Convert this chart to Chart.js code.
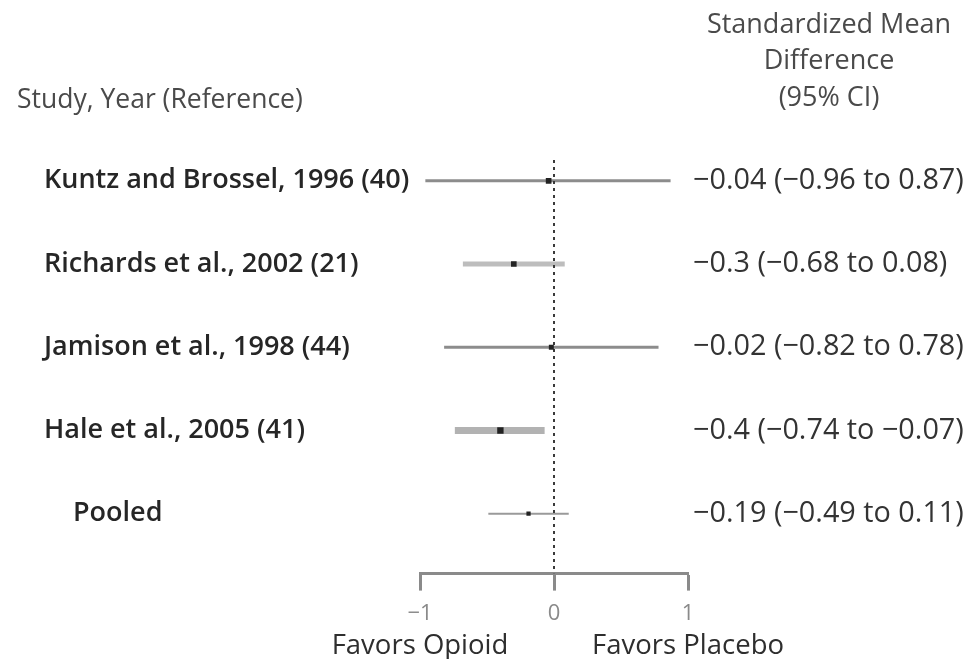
<!DOCTYPE html>
<html>
<head>
<meta charset="utf-8">
<script src="https://cdn.jsdelivr.net/npm/chart.js@4.4.1/dist/chart.umd.min.js"></script>
<style>
    html, body { margin: 0; padding: 0; background: #fff; }
    #wrap { width: 971px; height: 659px; position: relative; }
</style>
</head>
<body>
<div id="wrap"><canvas id="forestChart"></canvas></div>
<script>
// Dane
const studies = ['Kuntz and Brossel, 1996 (40)', 'Richards et al., 2002 (21)', 'Jamison et al., 1998 (44)', 'Hale et al., 2005 (41)', 'Pooled'];
const smd = [-0.04, -0.3, -0.02, -0.4, -0.19];
const ciLow = [-0.96, -0.68, -0.82, -0.74, -0.49];
const ciHigh = [0.87, 0.08, 0.78, -0.07, 0.11];
const ciText = ['\u22120.04 (\u22120.96 to 0.87)', '\u22120.3 (\u22120.68 to 0.08)', '\u22120.02 (\u22120.82 to 0.78)', '\u22120.4 (\u22120.74 to \u22120.07)', '\u22120.19 (\u22120.49 to 0.11)'];
const xTicks = [-1, 0, 1];
const favorsLabels = ['Favors Opioid', 'Favors Placebo'];

// Style wierszy
const lineColors = ['#8c8c8c', '#bdbdbd', '#8c8c8c', '#b2b2b2', '#9a9a9a'];
const lineWidths = [3, 5, 3, 7, 2];
const pointSizes = [4, 4, 3.5, 4.5, 3];
const labelIndent = [44, 44, 44, 44, 73];

const FONT = '"Open Sans", "DejaVu Sans", sans-serif';

// Linie przedziałów ufności - jeden zbiór na wiersz
const ciDatasets = studies.map((name, i) => ({
    label: name,
    data: [{ x: ciLow[i], y: i }, { x: ciHigh[i], y: i }],
    showLine: true,
    borderColor: lineColors[i],
    borderWidth: lineWidths[i],
    borderCapStyle: 'butt',
    pointRadius: 0,
    order: 2,
}));

const nullLine = {
    label: 'null',
    data: [{ x: 0, y: -0.25 }, { x: 0, y: 4.72 }],
    showLine: true,
    borderColor: '#3a3a3a',
    borderWidth: 2,
    borderDash: [3, 4],
    pointRadius: 0,
    order: 1,
};

const pointsDataset = {
    label: 'SMD',
    data: smd.map((v, i) => ({ x: v, y: i })),
    pointStyle: 'rect',
    pointRadius: pointSizes,
    backgroundColor: '#222',
    borderColor: '#222',
    borderWidth: 0,
    order: 0,
};

/**
 * Teksty: nagłówki, etykiety badań, wartości CI, opisy osi
 */
const textPlugin = {
    id: 'forestText',
    afterDraw(chart) {
        const ctx = chart.ctx;
        const xs = chart.scales.x;
        const ys = chart.scales.y;
        const area = chart.chartArea;
        ctx.save();
        ctx.textBaseline = 'middle';

        // Nagłówek lewy
        ctx.fillStyle = '#4a4a4a';
        ctx.font = '400 26.5px ' + FONT;
        ctx.textAlign = 'left';
        ctx.fillText('Study, Year (Reference)', 17, 100);

        // Nagłówek prawy
        ctx.textAlign = 'center';
        ctx.font = '400 27px ' + FONT;
        ctx.fillText('Standardized Mean', 829, 25);
        ctx.fillText('Difference', 829, 61);
        ctx.fillText('(95% CI)', 829, 98);

        // Etykiety badań
        ctx.textAlign = 'left';
        ctx.font = '600 27px ' + FONT;
        ctx.fillStyle = '#262626';
        studies.forEach((name, i) => {
            ctx.fillText(name, labelIndent[i], ys.getPixelForValue(i));
        });

        // Wartości SMD (95% CI)
        ctx.font = '400 28.8px ' + FONT;
        ctx.fillStyle = '#333';
        ciText.forEach((t, i) => {
            ctx.fillText(t, area.right + 5, ys.getPixelForValue(i));
        });

        // Opisy pod osią
        ctx.textAlign = 'center';
        ctx.font = '500 27.5px ' + FONT;
        ctx.fillStyle = '#2e2e2e';
        ctx.fillText(favorsLabels[0], xs.getPixelForValue(-1), 646);
        ctx.fillText(favorsLabels[1], xs.getPixelForValue(1), 646);
        ctx.restore();
    },
};

const ctx = document.getElementById('forestChart').getContext('2d');
const chart = new Chart(ctx, {
    type: 'scatter',
    data: {
        datasets: [...ciDatasets, nullLine, pointsDataset],
    },
    options: {
        responsive: true,
        maintainAspectRatio: false,
        animation: false,
        layout: {
            padding: { left: 420, right: 283, top: 160, bottom: 22 },
        },
        plugins: {
            legend: { display: false },
            tooltip: { enabled: false },
        },
        scales: {
            x: {
                type: 'linear',
                min: -1,
                max: 1,
                afterBuildTicks: (axis) => {
                    axis.ticks = xTicks.map((v) => ({ value: v }));
                },
                ticks: {
                    color: '#8a8a8a',
                    font: { family: FONT, size: 22 },
                    padding: 10,
                    callback: (v) => (v < 0 ? '\u2212' + Math.abs(v) : String(v)),
                },
                grid: {
                    drawOnChartArea: false,
                    drawTicks: true,
                    tickLength: 17,
                    tickColor: '#8a8a8a',
                    tickWidth: 3,
                },
                border: {
                    display: true,
                    color: '#8a8a8a',
                    width: 3,
                },
            },
            y: {
                type: 'linear',
                reverse: true,
                min: -0.25,
                max: 4.72,
                display: false,
            },
        },
    },
    plugins: [textPlugin],
});
</script>
</body>
</html>
